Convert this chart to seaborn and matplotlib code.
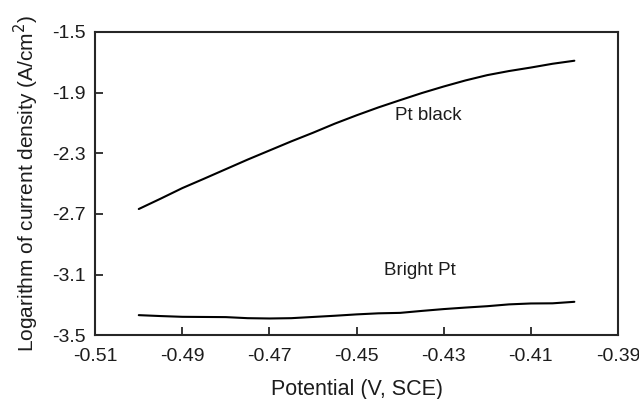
import numpy as np
import pandas as pd
import matplotlib
matplotlib.use("Agg")
import matplotlib.pyplot as plt
import seaborn as sns

potential = [-0.500, -0.495, -0.490, -0.485, -0.480, -0.475, -0.470, -0.465, -0.460,
             -0.455, -0.450, -0.445, -0.440, -0.435, -0.430, -0.425, -0.420, -0.415,
             -0.410, -0.405, -0.400]
pt_black = [-2.668, -2.600, -2.530, -2.468, -2.405, -2.342, -2.282, -2.222, -2.165,
            -2.105, -2.050, -1.998, -1.950, -1.903, -1.860, -1.820, -1.785, -1.758,
            -1.735, -1.710, -1.690]
bright_pt = [-3.368, -3.374, -3.379, -3.380, -3.381, -3.388, -3.390, -3.388, -3.380,
             -3.372, -3.363, -3.356, -3.353, -3.340, -3.328, -3.318, -3.309, -3.297,
             -3.291, -3.290, -3.280]

df = pd.DataFrame({"potential": potential * 2,
                   "logj": pt_black + bright_pt,
                   "electrode": ["Pt black"] * len(potential) + ["Bright Pt"] * len(potential)})

sns.set_style("ticks")
plt.rcParams['font.family'] = ['Liberation Sans', 'DejaVu Sans']
txt = "#1c1c1c"

fig, ax = plt.subplots(figsize=(6.39, 3.99), dpi=100)
sns.lineplot(data=df, x="potential", y="logj", units="electrode", estimator=None,
             color="black", linewidth=1.5, ax=ax, legend=False)

xt = np.arange(-0.51, -0.385, 0.02)
yt = np.arange(-3.5, -1.45, 0.4)
ax.set_xlim(-0.51, -0.39)
ax.set_ylim(-3.5, -1.5)
ax.set_xticks(xt)
ax.set_yticks(yt)
ax.set_xticklabels([f"{v:.2f}" for v in xt])
ax.set_yticklabels([f"{v:.1f}" for v in yt])
ax.tick_params(direction="in", length=6, width=1.3, labelsize=14, labelcolor=txt)
ax.tick_params(axis="x", pad=9)
ax.tick_params(axis="y", pad=7)
for s in ax.spines.values():
    s.set_linewidth(1.5)
    s.set_visible(True)

ax.text(-0.4336, -2.048, "Pt black", fontsize=13.5, ha="center", va="center", color=txt)
ax.text(-0.4354, -3.071, "Bright Pt", fontsize=13.5, ha="center", va="center", color=txt)

ax.set_xlabel("Potential (V, SCE)", fontsize=15.5, labelpad=10, color=txt)
ax.set_ylabel("Logarithm of current density (A/cm$^2$)", fontsize=15, labelpad=8, color=txt)

fig.subplots_adjust(left=0.149, right=0.967, top=0.92, bottom=0.16)
fig.savefig("out.png", dpi=100)
